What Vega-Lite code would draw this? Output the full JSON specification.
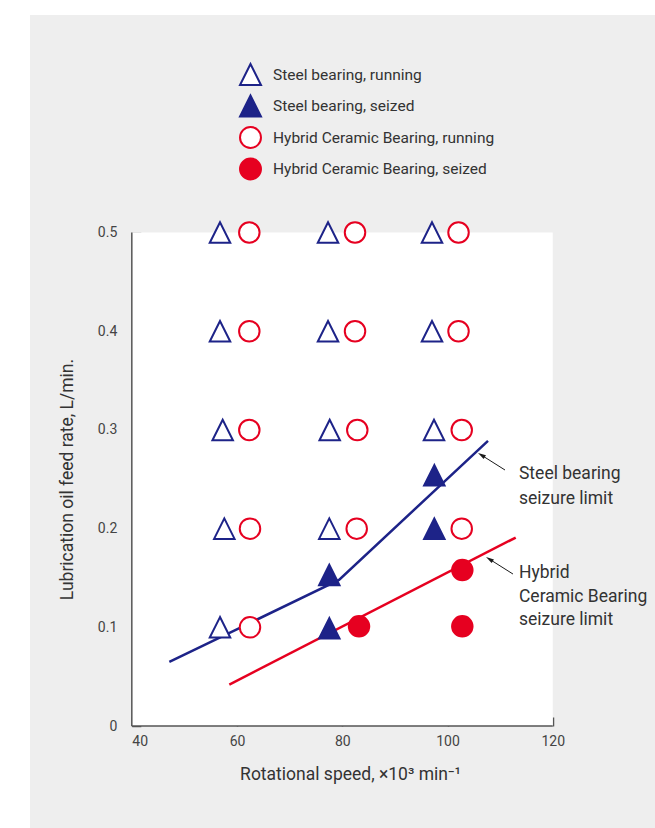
{
  "$schema": "https://vega.github.io/schema/vega-lite/v6.json",
  "width": 625,
  "height": 813,
  "autosize": {"type": "none"},
  "padding": {"left": 30, "top": 15, "right": 0, "bottom": 0},
  "background": "white",
  "config": {
    "view": {"fill": "#eeeeee", "stroke": null},
    "font": "Roboto",
    "axis": {"grid": false, "domain": false, "labelFont": "Roboto", "titleFont": "Roboto", "labelColor": "#444444", "titleColor": "#333333", "titleFontWeight": "normal", "tickColor": "#555555", "tickWidth": 1.5, "labelFontSize": 14, "titleFontSize": 17.5},
    "legend": {"labelFont": "Roboto"}
  },
  "encoding": {
    "x": {
      "field": "x", "type": "quantitative",
      "scale": {"domain": [20.65, 139.43], "nice": false, "zero": false},
      "axis": {
        "values": [40, 60, 80, 100, 120],
        "offset": -102,
        "tickSize": -9,
        "labelPadding": 17,
        "labelAlign": {"condition": {"test": "datum.value === 40", "value": "left"}, "value": "center"},
        "title": "Rotational speed, ×10³ min⁻¹",
        "titleX": 320,
        "titleY": 53,
        "titleBaseline": "alphabetic",
        "titleAlign": "center"
      }
    },
    "y": {
      "field": "y", "type": "quantitative",
      "scale": {"domain": [-0.1033, 0.7204], "nice": false, "zero": false},
      "axis": {
        "values": [0, 0.1, 0.2, 0.3, 0.4, 0.5],
        "format": ".1~f",
        "offset": -101.8,
        "tickSize": -9,
        "labelPadding": 24,
        "title": "Lubrication oil feed rate, L/min.",
        "titleX": -64.8,
        "titleY": 464,
        "titleAngle": -90,
        "titleAlign": "center",
        "titleBaseline": "middle"
      }
    }
  },
  "layer": [
    {
      "data": {"values": [{"x": 40, "x2": 120, "y": 0, "y2": 0.5}]},
      "mark": {"type": "rect", "fill": "white", "stroke": null},
      "encoding": {"x2": {"field": "x2"}, "y2": {"field": "y2"}}
    },
    {
      "data": {"values": [
        {"x": 40, "y": 0, "x2": 40, "y2": 0.5},
        {"x": 40, "y": 0, "x2": 120, "y2": 0}
      ]},
      "mark": {"type": "rule", "color": "#555555", "strokeWidth": 1.5},
      "encoding": {"x2": {"field": "x2"}, "y2": {"field": "y2"}}
    },
    {
      "data": {"values": [
        {"x": 47.13, "y": 0.065},
        {"x": 79.38, "y": 0.148},
        {"x": 107.69, "y": 0.289}
      ]},
      "mark": {"type": "line", "color": "#1d2388", "strokeWidth": 2.5},
      "encoding": {}
    },
    {
      "data": {"values": [
        {"x": 58.53, "y": 0.042},
        {"x": 112.96, "y": 0.191}
      ]},
      "mark": {"type": "line", "color": "#e60020", "strokeWidth": 2.5},
      "encoding": {}
    },
    {
      "data": {"values": [
        {"x": 110.92, "y": 0.2594, "x2": 106.44, "y2": 0.2745},
        {"x": 112.44, "y": 0.154, "x2": 107.96, "y2": 0.1691}
      ]},
      "mark": {"type": "rule", "color": "#1a1a1a", "strokeWidth": 1},
      "encoding": {"x2": {"field": "x2"}, "y2": {"field": "y2"}}
    },
    {
      "data": {"values": [
        {"x": 106.44, "y": 0.2745},
        {"x": 107.96, "y": 0.1691}
      ]},
      "mark": {"type": "point", "shape": "M0,-1L-0.55,1L0.55,1Z", "size": 64, "angle": 302, "filled": true, "color": "#1a1a1a", "opacity": 1},
      "encoding": {}
    },
    {
      "data": {"values": [
        {"x": 113.58, "y": 0.2553, "label": "Steel bearing"},
        {"x": 113.58, "y": 0.23, "label": "seizure limit"},
        {"x": 113.58, "y": 0.155, "label": "Hybrid"},
        {"x": 113.58, "y": 0.1307, "label": "Ceramic Bearing"},
        {"x": 113.58, "y": 0.1074, "label": "seizure limit"}
      ]},
      "mark": {"type": "text", "align": "left", "baseline": "middle", "fontSize": 17.5, "color": "#333333", "font": "Roboto"},
      "encoding": {"text": {"field": "label"}}
    },
    {
      "data": {"values": [
        {"x": 56.76, "y": 0.5, "series": "Steel bearing, running"},
        {"x": 56.76, "y": 0.4, "series": "Steel bearing, running"},
        {"x": 57.27, "y": 0.3, "series": "Steel bearing, running"},
        {"x": 57.58, "y": 0.2, "series": "Steel bearing, running"},
        {"x": 56.76, "y": 0.1, "series": "Steel bearing, running"},
        {"x": 77.29, "y": 0.5, "series": "Steel bearing, running"},
        {"x": 77.29, "y": 0.4, "series": "Steel bearing, running"},
        {"x": 77.61, "y": 0.3, "series": "Steel bearing, running"},
        {"x": 77.53, "y": 0.2, "series": "Steel bearing, running"},
        {"x": 97.05, "y": 0.5, "series": "Steel bearing, running"},
        {"x": 97.05, "y": 0.4, "series": "Steel bearing, running"},
        {"x": 97.43, "y": 0.3, "series": "Steel bearing, running"},
        {"x": 77.53, "y": 0.153, "series": "Steel bearing, seized"},
        {"x": 77.53, "y": 0.099, "series": "Steel bearing, seized"},
        {"x": 97.49, "y": 0.254, "series": "Steel bearing, seized"},
        {"x": 97.49, "y": 0.2, "series": "Steel bearing, seized"},
        {"x": 62.33, "y": 0.5, "series": "Hybrid Ceramic Bearing, running"},
        {"x": 62.33, "y": 0.4, "series": "Hybrid Ceramic Bearing, running"},
        {"x": 62.33, "y": 0.3, "series": "Hybrid Ceramic Bearing, running"},
        {"x": 62.46, "y": 0.2, "series": "Hybrid Ceramic Bearing, running"},
        {"x": 62.46, "y": 0.1, "series": "Hybrid Ceramic Bearing, running"},
        {"x": 82.42, "y": 0.5, "series": "Hybrid Ceramic Bearing, running"},
        {"x": 82.42, "y": 0.4, "series": "Hybrid Ceramic Bearing, running"},
        {"x": 82.85, "y": 0.3, "series": "Hybrid Ceramic Bearing, running"},
        {"x": 82.74, "y": 0.2, "series": "Hybrid Ceramic Bearing, running"},
        {"x": 102.09, "y": 0.5, "series": "Hybrid Ceramic Bearing, running"},
        {"x": 102.09, "y": 0.4, "series": "Hybrid Ceramic Bearing, running"},
        {"x": 102.7, "y": 0.3, "series": "Hybrid Ceramic Bearing, running"},
        {"x": 102.7, "y": 0.2, "series": "Hybrid Ceramic Bearing, running"},
        {"x": 83.18, "y": 0.101, "series": "Hybrid Ceramic Bearing, seized"},
        {"x": 102.81, "y": 0.158, "series": "Hybrid Ceramic Bearing, seized"},
        {"x": 102.81, "y": 0.101, "series": "Hybrid Ceramic Bearing, seized"}
      ]},
      "mark": {"type": "point", "size": 420, "strokeWidth": 2, "opacity": 1},
      "encoding": {
        "shape": {
          "field": "series", "type": "nominal",
          "scale": {"domain": ["Steel bearing, running", "Steel bearing, seized", "Hybrid Ceramic Bearing, running", "Hybrid Ceramic Bearing, seized"],
                    "range": ["M0,-1L-1,1L1,1Z", "M0,-1L-1,1L1,1Z", "circle", "circle"]},
          "legend": {"orient": "none", "legendX": 209, "legendY": 48, "title": null, "labelFontSize": 15.5, "labelColor": "#333333", "labelLimit": 400, "symbolSize": 440, "symbolStrokeWidth": 2, "rowPadding": 2.5, "labelOffset": 11, "padding": 0, "symbolOpacity": 1}
        },
        "stroke": {
          "field": "series", "type": "nominal",
          "scale": {"domain": ["Steel bearing, running", "Steel bearing, seized", "Hybrid Ceramic Bearing, running", "Hybrid Ceramic Bearing, seized"],
                    "range": ["#1d2388", "#1d2388", "#e60020", "#e60020"]},
          "legend": {"orient": "none", "legendX": 209, "legendY": 48, "title": null, "labelFontSize": 15.5, "labelColor": "#333333", "labelLimit": 400, "symbolSize": 440, "symbolStrokeWidth": 2, "rowPadding": 2.5, "labelOffset": 11, "padding": 0, "symbolOpacity": 1}
        },
        "fill": {
          "field": "series", "type": "nominal",
          "scale": {"domain": ["Steel bearing, running", "Steel bearing, seized", "Hybrid Ceramic Bearing, running", "Hybrid Ceramic Bearing, seized"],
                    "range": ["white", "#1d2388", "white", "#e60020"]},
          "legend": {"orient": "none", "legendX": 209, "legendY": 48, "title": null, "labelFontSize": 15.5, "labelColor": "#333333", "labelLimit": 400, "symbolSize": 440, "symbolStrokeWidth": 2, "rowPadding": 2.5, "labelOffset": 11, "padding": 0, "symbolOpacity": 1}
        }
      }
    }
  ]
}
